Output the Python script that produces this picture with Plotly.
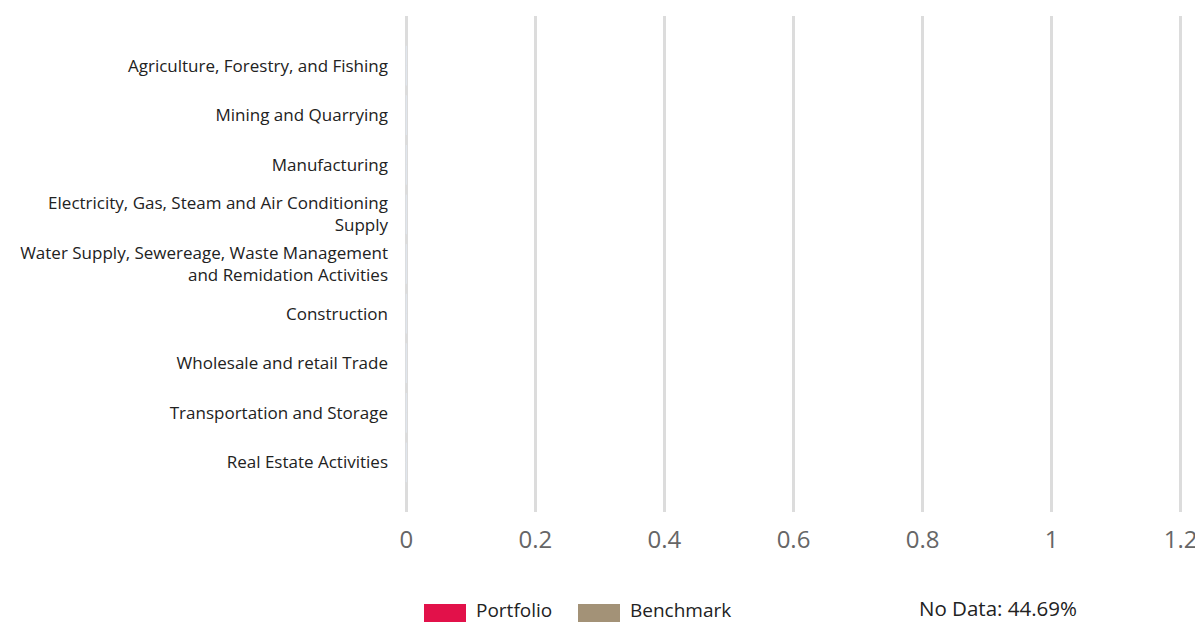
import plotly.graph_objects as go

categories = [
    "Agriculture, Forestry, and Fishing",
    "Mining and Quarrying",
    "Manufacturing",
    "Electricity, Gas, Steam and Air Conditioning<br>Supply",
    "Water Supply, Sewereage, Waste Management<br>and Remidation Activities",
    "Construction",
    "Wholesale and retail Trade",
    "Transportation and Storage",
    "Real Estate Activities",
]
portfolio_values = [0, 0, 0, 0, 0, 0, 0, 0, 0]
benchmark_values = [0, 0, 0, 0, 0, 0, 0, 0, 0]
series_names = ["Portfolio", "Benchmark"]
series_colors = ["#e2114a", "#a39277"]
x_ticks = [0, 0.2, 0.4, 0.6, 0.8, 1, 1.2]
no_data_text = "No Data: 44.69%"

FONT = "Open Sans, Segoe UI, sans-serif"

fig = go.Figure()
fig.add_trace(go.Bar(y=categories, x=portfolio_values, orientation="h",
                     name=series_names[0], marker_color=series_colors[0], showlegend=False))
fig.add_trace(go.Bar(y=categories, x=benchmark_values, orientation="h",
                     name=series_names[1], marker_color=series_colors[1], showlegend=False))

fig.update_layout(
    width=1203, height=622,
    margin=dict(l=397, r=29, t=8, b=118),
    paper_bgcolor="white", plot_bgcolor="white",
    barmode="group",
    font=dict(family=FONT, color="#222"),
    xaxis=dict(range=[-0.002, 1.202], tickvals=x_ticks, ticktext=[f"{v:g}" for v in x_ticks],
               showgrid=True, gridcolor="#dcdcdc", gridwidth=3, zeroline=False,
               showline=False, ticks="", ticklabelstandoff=11,
               tickfont=dict(size=24, color="#666", family=FONT)),
    yaxis=dict(type="category", categoryorder="array", categoryarray=categories,
               range=[9, -1], showgrid=False, zeroline=False, showline=False, ticks="",
               ticklabelstandoff=16,
               tickfont=dict(size=17, color="#222", family=FONT)),
)

# custom legend (swatches + labels), positioned relative to plot area
PX0, PW, PY1, PH = 397, 777, 504, 496
shapes = []
annotations = []
legend_x = [416, 570]
for name, color, x0 in zip(series_names, series_colors, legend_x):
    shapes.append(dict(type="rect", xref="paper", yref="paper",
                       x0=(x0 - PX0) / PW, x1=(x0 + 42 - PX0) / PW,
                       y0=(PY1 - 614) / PH, y1=(PY1 - 596) / PH,
                       fillcolor=color, line=dict(width=0)))
    annotations.append(dict(xref="paper", yref="paper", x=(x0 + 50 - PX0) / PW,
                            y=(PY1 - 602) / PH, text=name, showarrow=False,
                            xanchor="left", yanchor="middle",
                            font=dict(size=19, color="#222", family=FONT)))
annotations.append(dict(xref="paper", yref="paper", x=(990 - PX0) / PW,
                        y=(PY1 - 600) / PH, text=no_data_text, showarrow=False,
                        xanchor="center", yanchor="middle",
                        font=dict(size=20.5, color="#222", family=FONT)))
fig.update_layout(shapes=shapes, annotations=annotations)

fig.write_html("out.html")
